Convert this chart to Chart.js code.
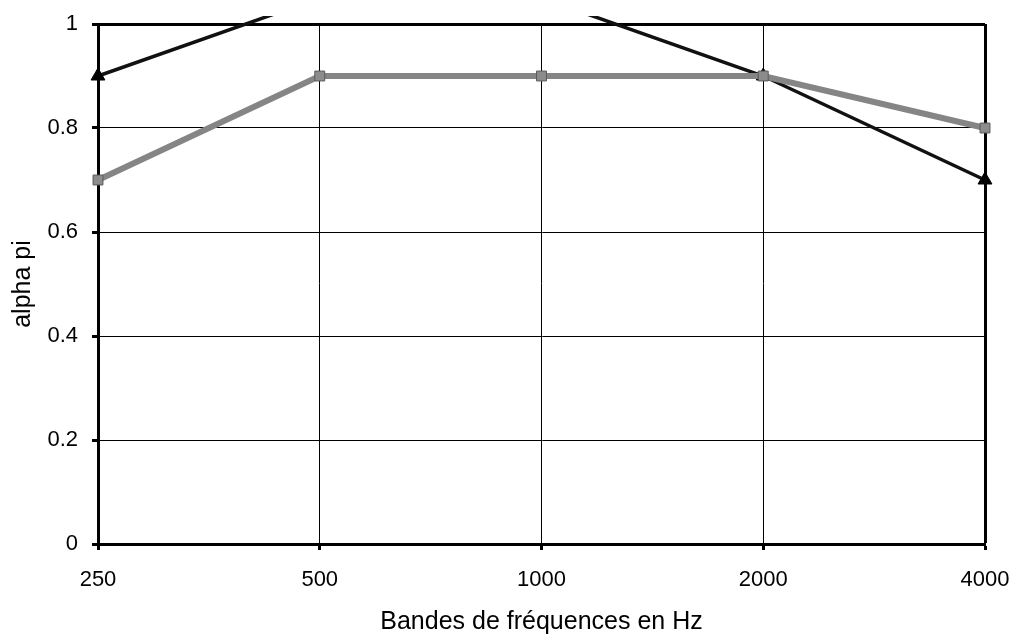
<!DOCTYPE html>
<html>
<head>
<meta charset="utf-8">
<script src="https://cdn.jsdelivr.net/npm/chart.js@4"></script>
<style>
  html, body { margin: 0; padding: 0; background: #fff; }
</style>
</head>
<body>
<canvas id="chartAlpha" width="1015" height="637"></canvas>
<script>
const frequencies = ['250', '500', '1000', '2000', '4000'];
const alphaTriangle = [0.9, 1.05, 1.05, 0.9, 0.7];
const alphaSquare = [0.7, 0.9, 0.9, 0.9, 0.8];
const yTicks = [0, 0.2, 0.4, 0.6, 0.8, 1];

const fontFamily = '"Liberation Sans", Arial, sans-serif';

const config = {
  type: 'line',
  data: {
    labels: frequencies,
    datasets: [{
      label: 'carres',
      data: alphaSquare,
      order: 0,
      borderColor: '#858585',
      borderWidth: 6,
      pointStyle: 'rect',
      pointRadius: 7,
      pointBackgroundColor: '#8c8c8c',
      pointBorderColor: '#5a5a5a',
      pointBorderWidth: 1,
      tension: 0,
      clip: {left: 15, right: 15, top: 8, bottom: 15}
    }, {
      label: 'triangles',
      data: alphaTriangle,
      order: 1,
      borderColor: '#111',
      borderWidth: 3.5,
      pointStyle: 'triangle',
      pointRadius: 8,
      pointBackgroundColor: '#000',
      pointBorderColor: '#000',
      pointBorderWidth: 1,
      tension: 0,
      clip: {left: 15, right: 15, top: 8, bottom: 15}
    }]
  },
  options: {
    responsive: false,
    animation: false,
    layout: {
      padding: {left: 0, right: 30, top: 24, bottom: 0}
    },
    plugins: {
      legend: { display: false },
      tooltip: { enabled: false }
    },
    scales: {
      x: {
        offset: false,
        afterFit: (scale) => {
          scale.height = 93;
          scale.paddingLeft = 0;
          scale.paddingRight = 0;
        },
        border: { color: '#000', width: 3 },
        grid: {
          color: '#000',
          lineWidth: (ctx) => ctx.index === frequencies.length - 1 ? 3 : 1,
          tickLength: 6,
          tickColor: '#000',
          tickWidth: 3
        },
        ticks: {
          color: '#000',
          padding: 17,
          maxRotation: 0,
          font: { family: fontFamily, size: 22 }
        },
        title: {
          display: true,
          text: 'Bandes de fréquences en Hz',
          color: '#000',
          padding: { top: 0, bottom: 0 },
          font: { family: fontFamily, size: 25 }
        }
      },
      y: {
        min: 0,
        max: 1,
        afterFit: (scale) => {
          scale.width = 98;
          scale.paddingTop = 0;
          scale.paddingBottom = 0;
        },
        afterBuildTicks: (scale) => { scale.ticks = yTicks.map(v => ({value: v})); },
        border: { color: '#000', width: 3 },
        grid: {
          color: '#000',
          lineWidth: (ctx) => ctx.tick && ctx.tick.value === 1 ? 3 : 1,
          tickLength: 6,
          tickColor: '#000',
          tickWidth: 3
        },
        ticks: {
          color: '#000',
          padding: 14,
          font: { family: fontFamily, size: 22 },
          callback: (v) => String(v)
        },
        title: {
          display: true,
          text: 'alpha pi',
          color: '#000',
          padding: { top: 8, bottom: 0 },
          font: { family: fontFamily, size: 25 }
        }
      }
    }
  }
};

const chartAlpha = new Chart(document.getElementById('chartAlpha'), config);
</script>
</body>
</html>
